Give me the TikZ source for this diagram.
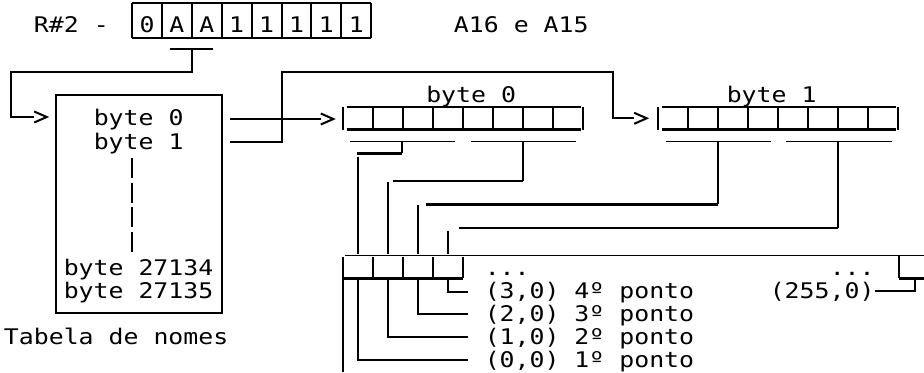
\documentclass[tikz,border=0pt]{standalone}
\usepackage{fontspec}
\newfontfamily\mono[FakeStretch=1.155]{DejaVu Sans Mono}
\tikzset{
  ln/.style={line width=1.5pt},
  lnthin/.style={line width=1.1pt},
  lnthick/.style={line width=2.2pt},
  txt/.style={font=\mono\fontsize{16.13}{19}\selectfont, inner sep=0pt, anchor=base west},
  ctxt/.style={txt, anchor=base},
  vdots/.style={ln, dash pattern=on 15pt off 3.375pt},
}
\newcommand\mychev[1]{\draw[ln] (#1) ++(-12.5,-5.5) -- (#1) -- ++(-12.5,5.5);}
\begin{document}
\begin{tikzpicture}[x=0.75pt,y=-0.75pt]
\fill[white] (0,0) rectangle (924,372);
\useasboundingbox (0,0) rectangle (924,372);

% ---------------- register R#2
\node[txt] (r2) at (33.7,32) {R\#2 -};
\foreach \k/\c in {0/0,1/A,2/A,3/1,4/1,5/1,6/1,7/1}
  \node[ctxt] (reg\k) at ({147+29.9*\k},32) {\c};
\foreach \k in {0,...,8} \draw[ln] ({132+29.9*\k},3) -- ({132+29.9*\k},38);
\draw[lnthin] (132,3) -- (371.2,3);
\draw[lnthick] (132,38) -- (371.2,38);
\node[txt] (a16) at (453.7,32) {A16 e A15};

% bracket under A A, to the name table
\draw[lnthin] (170,49) -- (213.3,49);
\coordinate (aa) at (191.8,49);
\coordinate (tabin) at (46.7,117);
\draw[ln] (aa) -- (191.8,72.3) -- (11,72.3) -- (11,117) -- (34.2,117);
\mychev{tabin}

% ---------------- name table
\node[draw, ln, inner sep=0pt, minimum width=124.5pt, minimum height=163.5pt] (tab) at (139,204) {};
\node[txt] (b0) at (93.5,125.5) {byte 0};
\node[txt] (b1) at (93.5,149) {byte 1};
\draw[vdots] (131.7,158) -- (131.7,252);
\node[txt] (b27134) at (63.5,275) {byte 27134};
\node[txt] (b27135) at (63.5,298) {byte 27135};
\node[txt] (tabname) at (3.7,344) {Tabela de nomes};

% arrows from byte 0 and byte 1
\coordinate (arr0) at (333.3,119);
\coordinate (arr1) at (646.7,118.3);
\draw[ln] (230,119) -- (320.7,119);
\mychev{arr0}
\draw[ln] (230,141.7) -- (281.7,141.7) -- (281.7,72.3) -- (613,72.3) -- (613,118.3) -- (634.2,118.3);
\mychev{arr1}

% ---------------- pattern bytes
\foreach \ox in {342.7,658.3} {
  \foreach \k in {0,...,8} \draw[ln] ({\ox+30*\k},107) -- ({\ox+30*\k},130);
  \draw[lnthick] ({\ox+4},107) -- ({\ox+238},107);
  \draw[lnthick] ({\ox+4},129.7) -- ({\ox+238},129.7);
  \draw[lnthin] ({\ox+7.3},141.5) -- ({\ox+112.3},141.5);
  \draw[lnthin] ({\ox+128},141.5) -- ({\ox+233.3},141.5);
}
\node[txt] (lb0) at (426,102.5) {byte 0};
\node[txt] (lb1) at (726.5,102.5) {byte 1};

% connectors from nibbles to pixels
\draw[ln] (402.3,141.5) -- (402.3,153.3);
\draw[lnthick] (402.3,153.3) -- (356.5,153.3);
\draw[ln] (357.5,156.5) -- (357.5,254);
\draw[ln] (522.7,141.5) -- (522.7,181);
\draw[lnthick] (522.7,181) -- (392.7,181);
\draw[ln] (387.5,182) -- (387.5,254);
\draw[ln] (718.3,141.5) -- (718.3,204.3);
\draw[lnthick] (718.3,204.3) -- (426,204.3);
\draw[ln] (417.5,205) -- (417.5,254);
\draw[ln] (838.3,141.5) -- (838.3,228);
\draw[lnthin] (838.3,228) -- (459,228);
\draw[ln] (447.5,231) -- (447.5,254);

% ---------------- pixel row
\draw[lnthin] (345,255.7) -- (924,255.7);
\draw[ln] (342.7,257) -- (342.7,372);
\foreach \x in {372.7,402.7,432.7,462.7} \draw[ln] (\x,257) -- (\x,278.3);
\draw[lnthick] (343,278.3) -- (463,278.3);
\foreach \x/\y in {357.5/360,387.5/337.3,417.5/314,447.5/291.7}
  \draw[ln] (\x,279) -- (\x,\y) -- (467.5,\y);
\draw[ln] (899,256) -- (899,278.3);
\draw[lnthick] (899,278.3) -- (924,278.3);
\draw[ln] (915,279) -- (915,291) -- (875,291);

\node[txt] (dl) at (484.5,275) {...};
\node[txt] (p3) at (484.5,298.7) {(3,0) 4º ponto};
\node[txt] (p2) at (484.5,321) {(2,0) 3º ponto};
\node[txt] (p1) at (484.5,344.3) {(1,0) 2º ponto};
\node[txt] (p0) at (484.5,367) {(0,0) 1º ponto};
\node[txt] (dr) at (829.5,275) {...};
\node[txt] (p255) at (769.5,298) {(255,0)};
\end{tikzpicture}
\end{document}
